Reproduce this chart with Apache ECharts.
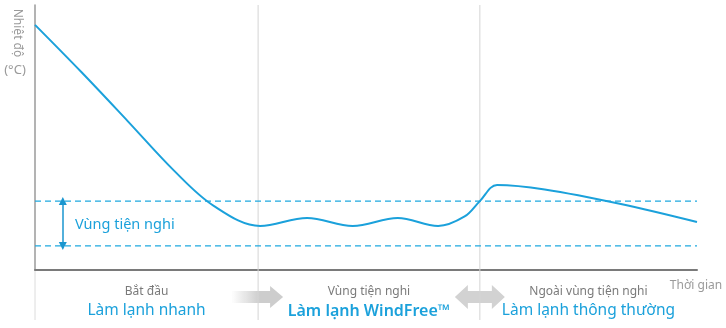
<!DOCTYPE html>
<html><head><meta charset="utf-8">
<script src="https://cdn.jsdelivr.net/npm/echarts@6/dist/echarts.min.js"></script>
<style>html,body{margin:0;padding:0;background:#fff}#c{width:726px;height:328px}</style>
</head><body><div id="c"></div>
<script>
// Room temperature over time (relative units)
const timeX = [0, 7, 14, 21, 27, 34.0, 41.1, 48.0, 54.8, 60.9, 64.9, 67.2, 69.8, 77, 88.5, 100];
const tempY = [92.5, 74.7, 56.2, 37.5, 24.2, 16.6, 19.6, 16.6, 19.6, 16.6, 20.2, 26.0, 32.1, 30.4, 24.9, 18.1];

// Comfort band limits and the time where the band marker sits
const comfortHigh = 26.0;
const comfortLow = 9.1;
const comfortMarkerX = 4.2;
const comfortLabel = 'Vùng tiện nghi';

// Phase boundaries and captions
const phaseBounds = [0, 33.7, 67.2, 100];
const phaseSub = ['Bắt đầu', 'Vùng tiện nghi', 'Ngoài vùng tiện nghi'];
const phaseTitle = ['Làm lạnh nhanh', 'Làm lạnh WindFree™', 'Làm lạnh thông thường'];

const yName = 'Nhiệt độ';
const yUnit = '(°C)';
const xName = 'Thời gian';

const FONT = '"Noto Sans", "Open Sans", sans-serif';
const BLUE = '#1ba1db';
const DASH_COLOR = '#1fa9e0';
const MARKER_COLOR = '#1a96cf';

const chart = echarts.init(document.getElementById('c'), null, {renderer: 'canvas'});

const points = timeX.map((t, i) => [t, tempY[i]]);

function bandLine(v) {
  return {
    type: 'line', data: [[0, v], [100, v]], showSymbol: false, silent: true, z: 3,
    lineStyle: {color: DASH_COLOR, type: [6, 4], width: 1.4}
  };
}

chart.setOption({
  animation: false,
  grid: {left: 35, right: 29, top: 5, bottom: 58},
  xAxis: {
    type: 'value', min: 0, max: 100,
    axisLine: {show: true, lineStyle: {color: '#7a7a7a', width: 2}},
    axisTick: {show: false}, axisLabel: {show: false}, splitLine: {show: false}
  },
  yAxis: {
    type: 'value', min: 0, max: 100,
    axisLine: {show: true, lineStyle: {color: '#9a9a9a', width: 1.5}},
    axisTick: {show: false}, axisLabel: {show: false}, splitLine: {show: false}
  },
  series: [
    bandLine(comfortHigh),
    bandLine(comfortLow),
    {
      type: 'line',
      data: points,
      smooth: 0.35,
      showSymbol: false,
      lineStyle: {color: BLUE, width: 2},
      z: 5,
      markLine: {
        silent: true,
        label: {show: false},
        symbol: ['triangle', 'triangle'],
        symbolSize: [8, 8],
        lineStyle: {type: 'solid', color: MARKER_COLOR, width: 1.5},
        itemStyle: {color: MARKER_COLOR},
        data: [
          [{coord: [comfortMarkerX, comfortHigh]}, {coord: [comfortMarkerX, comfortLow]}]
        ]
      }
    }
  ]
});

function px(x, y) { return chart.convertToPixel({gridIndex: 0}, [x, y]); }

const g = [];
const axisBottom = px(0, 0)[1];
const axisTop = px(0, 100)[1];
const lowerEnd = 320;

// faint continuation of the y axis below the time axis
g.push({type: 'line', shape: {x1: px(0, 0)[0], y1: axisBottom + 1, x2: px(0, 0)[0], y2: lowerEnd},
        style: {stroke: '#dcdcdc', lineWidth: 1}, z: 1});

// transition arrows between phases
const b1 = px(phaseBounds[1], 0)[0];
const b2 = px(phaseBounds[2], 0)[0];
const ay = 297;
g.push({
  type: 'polygon', z: 1,
  shape: {points: [[b1 - 27, ay - 6], [b1 + 12, ay - 6], [b1 + 12, ay - 11], [b1 + 25, ay], [b1 + 12, ay + 11], [b1 + 12, ay + 6], [b1 - 27, ay + 6]]},
  style: {fill: new echarts.graphic.LinearGradient(0, 0, 1, 0, [
    {offset: 0, color: 'rgba(205,205,205,0)'},
    {offset: 0.55, color: 'rgba(205,205,205,1)'},
    {offset: 1, color: 'rgba(205,205,205,1)'}
  ])}
});
g.push({
  type: 'polygon', z: 1,
  shape: {points: [[b2 - 25, ay], [b2 - 12, ay - 12], [b2 - 12, ay - 6], [b2 + 12, ay - 6], [b2 + 12, ay - 12], [b2 + 25, ay], [b2 + 12, ay + 12], [b2 + 12, ay + 6], [b2 - 12, ay + 6], [b2 - 12, ay + 12]]},
  style: {fill: '#d2d2d2'}
});

// phase separators
[b1, b2].forEach(b => {
  g.push({type: 'line', shape: {x1: b, y1: axisTop, x2: b, y2: lowerEnd},
          style: {stroke: '#d4d4d4', lineWidth: 1}, z: 2});
});

// phase captions
for (let i = 0; i < 3; i++) {
  const cx = (px(phaseBounds[i], 0)[0] + px(phaseBounds[i + 1], 0)[0]) / 2;
  g.push({type: 'text', z: 3, style: {x: cx, y: 292, text: phaseSub[i], align: 'center', verticalAlign: 'middle',
          fill: '#7a7a7a', font: '12px ' + FONT}});
  g.push({type: 'text', z: 3, style: {x: cx, y: 311, text: phaseTitle[i], align: 'center', verticalAlign: 'middle',
          fill: BLUE, font: (i === 1 ? '600 16px ' : '15.5px ') + FONT}});
}

// comfort band label
const cm = px(comfortMarkerX, (comfortHigh + comfortLow) / 2);
g.push({type: 'text', z: 3, style: {x: 75, y: cm[1] + 1, text: comfortLabel, align: 'left', verticalAlign: 'middle',
        fill: BLUE, font: '14.5px ' + FONT}});

// axis titles
g.push({type: 'text', z: 3, x: 17, y: 33, rotation: -Math.PI / 2,
        style: {x: 0, y: 0, text: yName, align: 'center', verticalAlign: 'middle', fill: '#9a9a9a', font: '12px ' + FONT}});
g.push({type: 'text', z: 3, style: {x: 15, y: 70, text: yUnit, align: 'center', verticalAlign: 'middle', fill: '#9a9a9a', font: '13px ' + FONT}});
g.push({type: 'text', z: 3, style: {x: 696, y: 286, text: xName, align: 'center', verticalAlign: 'middle', fill: '#9a9a9a', font: '12px ' + FONT}});

chart.setOption({graphic: g});
</script>
</body></html>
